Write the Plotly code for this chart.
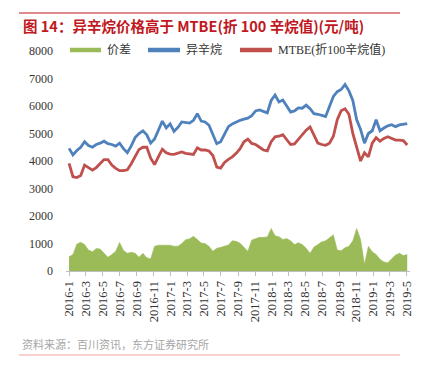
import pandas as pd
import plotly.graph_objects as go

# biweekly dates, 2016-01-01 .. 2019-05
dates = pd.date_range("2016-01-01", periods=88, freq="14D")

isooctane = [4460, 4220, 4380, 4500, 4700, 4560, 4500, 4600, 4650, 4720,
             4630, 4600, 4540, 4650, 4450, 4300, 4550, 4850, 5000, 5100,
             4950, 4650, 4800, 5100, 5450, 5200, 5350, 5080, 5220, 5420,
             5400, 5380, 5480, 5720, 5450, 5420, 5300, 4950, 4630, 4700,
             4950, 5250, 5350, 5420, 5480, 5520, 5560, 5650, 5820, 5860,
             5800, 5750, 6200, 6400, 6150, 6220, 6000, 5780, 5820, 5930,
             5920, 6030, 5900, 5720, 5700, 5670, 5620, 5980, 6350, 6520,
             6600, 6780, 6550, 6200, 5500, 5150, 4650, 5000, 5100, 5500,
             5100, 5200, 5280, 5320, 5250, 5310, 5340, 5360]

mtbe = [3915, 3430, 3400, 3470, 3850, 3760, 3670, 3760, 3900, 4050,
        4050, 3850, 3730, 3650, 3650, 3680, 3900, 4150, 4420, 4500,
        4500, 4100, 3870, 4160, 4430, 4300, 4250, 4240, 4280, 4330,
        4280, 4260, 4240, 4480, 4400, 4400, 4360, 4200, 3780, 3740,
        3950, 4060, 4150, 4280, 4450, 4700, 4800, 4640, 4600, 4500,
        4400, 4370, 4700, 4880, 4900, 4960, 4780, 4600, 4620, 4800,
        4980, 5120, 5240, 4950, 4650, 4600, 4570, 4650, 4900, 5500,
        5830, 5900, 5700, 5000, 4450, 4000, 4300, 4150, 4650, 4850,
        4720, 4820, 4880, 4820, 4760, 4760, 4740, 4580]

spread = [520, 600, 980, 1050, 960, 765, 700, 820, 800, 650,
          500, 600, 720, 1040, 750, 650, 680, 650, 500, 650,
          480, 450, 900, 940, 945, 940, 940, 900, 900, 1000,
          1140, 1170, 1260, 1150, 1020, 1000, 900, 720, 830, 860,
          900, 950, 1100, 1080, 1010, 850, 720, 1130, 1180, 1225,
          1225, 1240, 1550, 1280, 1250, 1150, 1180, 1100, 960, 1030,
          960, 830, 650, 870, 960, 1060, 1100, 1220, 1320, 760,
          740, 850, 900, 1100, 1550, 1150, 250, 900, 700, 600,
          430, 330, 300, 450, 580, 650, 560, 600]

names = ["价差", "异辛烷", "MTBE(折100辛烷值)"]
colors = ["#9BBB59", "#4F81BD", "#C0504D"]

title_text = "图 14：异辛烷价格高于 MTBE(折 100 辛烷值)(元/吨)"
source_text = "资料来源：百川资讯，东方证券研究所"

W, H = 430, 374
ML, MR, MT, MB = 66, 20, 51, 103
PW, PH = W - ML - MR, H - MT - MB

def px(x):
    return (x - ML) / PW

def py(y):
    return (H - MB - y) / PH

fig = go.Figure()
fig.add_trace(go.Scatter(x=dates, y=spread, mode="lines", fill="tozeroy", name=names[0],
                         fillcolor=colors[0], line=dict(color=colors[0], width=0.5),
                         showlegend=False, hoverinfo="skip"))
fig.add_trace(go.Scatter(x=dates, y=isooctane, mode="lines", name=names[1],
                         line=dict(color=colors[1], width=2.8), showlegend=False))
fig.add_trace(go.Scatter(x=dates, y=mtbe, mode="lines", name=names[2],
                         line=dict(color=colors[2], width=2.8), showlegend=False))

# manual legend (swatch start px, swatch end px, text start px)
legend_pos = [(70, 101, 105), (148, 180, 184), (240, 272, 276)]
legend_y = 50
shapes = [
    dict(type="line", xref="paper", yref="paper", x0=px(19), x1=px(400),
         y0=py(13), y1=py(13), line=dict(color="#C0181E", width=1)),
    dict(type="line", xref="paper", yref="paper", x0=px(19), x1=px(400),
         y0=py(355), y1=py(355), line=dict(color="#F4A3A3", width=1)),
]
annotations = [
    dict(text="<b>" + title_text + "</b>", xref="paper", yref="paper",
         x=px(21), y=py(25), xanchor="left", yanchor="middle", showarrow=False,
         font=dict(family="Noto Sans CJK SC", size=14.5, color="#C0181E")),
    dict(text=source_text, xref="paper", yref="paper",
         x=px(20), y=py(344), xanchor="left", yanchor="middle", showarrow=False,
         font=dict(family="Noto Sans CJK SC", size=11, color="#A6A6A6")),
]
for (s0, s1, t0), n, c in zip(legend_pos, names, colors):
    shapes.append(dict(type="line", xref="paper", yref="paper", x0=px(s0), x1=px(s1),
                       y0=py(legend_y), y1=py(legend_y), line=dict(color=c, width=4.5)))
    annotations.append(dict(text=n, xref="paper", yref="paper", x=px(t0), y=py(legend_y),
                            xanchor="left", yanchor="middle", showarrow=False,
                            font=dict(family="Liberation Serif, Noto Sans CJK SC",
                                      size=12, color="#333333")))

fig.update_layout(
    width=W, height=H,
    margin=dict(l=ML, r=MR, t=MT, b=MB),
    paper_bgcolor="white", plot_bgcolor="white",
    showlegend=False,
    font=dict(family="Liberation Serif, Noto Sans CJK SC", size=12, color="#333333"),
    xaxis=dict(type="date", range=["2015-12-21", "2019-05-13"],
               tick0="2016-01-01", dtick="M2", tickformat="%Y-%-m",
               tickangle=-90, ticks="outside", ticklen=4, tickcolor="#BFBFBF",
               showline=True, linecolor="#BFBFBF", linewidth=1,
               showgrid=False, zeroline=False, automargin=False,
               tickfont=dict(family="Liberation Serif", size=12.5, color="#333")),
    yaxis=dict(range=[0, 8000], dtick=1000, showgrid=False, zeroline=False,
               showline=False, ticks="", ticklabelstandoff=12, automargin=False,
               tickfont=dict(family="Liberation Serif", size=12, color="#333")),
    shapes=shapes,
    annotations=annotations,
)

fig.write_html("out.html", config={"displayModeBar": False},
               post_script="document.body.style.margin='0';document.body.style.padding='0';")
